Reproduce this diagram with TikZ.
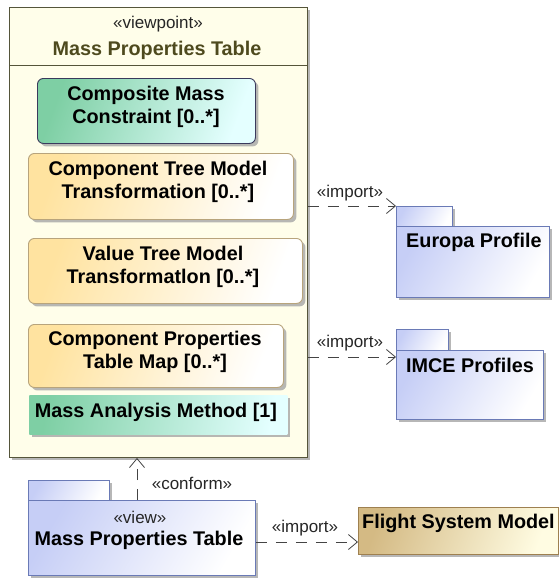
\documentclass[tikz,border=0pt]{standalone}
\usepackage{fontspec}
\setmainfont{Liberation Sans}
\usetikzlibrary{shadows,arrows.meta}
\definecolor{mainfill}{HTML}{FFFEEA}
\definecolor{mainborder}{HTML}{55553A}
\definecolor{headtext}{HTML}{4E4A1E}
\definecolor{tealL}{HTML}{7ECFA4}
\definecolor{tealR}{HTML}{E4FFFF}
\definecolor{tealborder}{HTML}{3A3A5C}
\definecolor{orgL}{HTML}{FFE3A0}
\definecolor{orgR}{HTML}{FFFFFF}
\definecolor{orgborder}{HTML}{B8A47C}
\definecolor{pkgL}{HTML}{C6CEF6}
\definecolor{pkgR}{HTML}{FFFFFF}
\definecolor{pkgborder}{HTML}{6A7AB6}
\definecolor{fsL}{HTML}{D4BA84}
\definecolor{fsR}{HTML}{FFFCE2}
\definecolor{fsborder}{HTML}{9E8050}
\definecolor{linecol}{HTML}{444444}
\tikzset{
  shad/.style={drop shadow={shadow xshift=3pt,shadow yshift=-3pt,fill=black!35,opacity=0.8}},
  box/.style={anchor=north west,inner sep=0pt,line width=0.9pt,shad},
  mainbox/.style={box,draw=mainborder,fill=mainfill},
  tealbox/.style={box,draw=tealborder,rounded corners=6pt,left color=tealL,right color=tealR,shading angle=70},
  orgbox/.style={box,draw=orgborder,rounded corners=6pt,left color=orgL,right color=orgR,shading angle=70},
  methbox/.style={box,left color=tealL,right color=tealR,shading angle=80},
  pkg/.style={box,draw=pkgborder,left color=pkgL,right color=pkgR,shading angle=60},
  fsbox/.style={box,draw=fsborder,left color=fsL,right color=fsR,shading angle=70},
  btxt/.style={font=\fontsize{19.8}{23}\selectfont\bfseries,align=center,inner sep=0pt,text=black},
  stxt/.style={font=\fontsize{17}{19}\selectfont,inner sep=0pt,text=black!85},
  dep/.style={draw=linecol,line width=0.8pt,dash pattern=on 11pt off 9pt,-{Straight Barb[length=9pt,width=15pt]}}
}
\begin{document}
\begin{tikzpicture}[x=1pt,y=-1pt]
\useasboundingbox[fill=white] (0,0) rectangle (559,578);
% main viewpoint box
\node[mainbox,minimum width=298pt,minimum height=450pt] (main) at (9,7) {};
\coordinate (hdrL) at (9,65);
\coordinate (hdrR) at (307,65);
\draw[draw=mainborder,line width=0.9pt] (hdrL) -- (hdrR);
\node[stxt] (vpst) at (158,24) {«viewpoint»};
\node[btxt,text=headtext] (vptitle) at (157,50) {Mass Properties Table};
% inner parts
\node[tealbox,minimum width=218pt,minimum height=65pt] (comp) at (37,78) {};
\node[btxt] (compt) at (146,106.5) {Composite Mass\\Constraint [0..*]};
\node[orgbox,minimum width=265pt,minimum height=66pt] (ctree) at (28,153) {};
\node[btxt] (ctreet) at (158,181.5) {Component Tree Model\\Transformation [0..*]};
\node[orgbox,minimum width=274pt,minimum height=65pt] (vtree) at (28,238) {};
\node[btxt] (vtreet) at (163,266.5) {Value Tree Model\\Transformatlon [0..*]};
\node[orgbox,minimum width=255pt,minimum height=63pt] (cprop) at (28,324) {};
\node[btxt] (cpropt) at (155,351.5) {Component Properties\\Table Map [0..*]};
\node[methbox,minimum width=258pt,minimum height=39pt] (mam) at (29,395) {};
\node[btxt] (mamt) at (156,412) {Mass Analysis Method [1]};
% Europa Profile package
\node[pkg,minimum width=56pt,minimum height=20pt] (eutab) at (396,206) {};
\node[pkg,minimum width=153pt,minimum height=71pt] (eubody) at (396,226) {};
\node[btxt,anchor=west] (eut) at (406,242) {Europa Profile};
% IMCE Profiles package
\node[pkg,minimum width=52pt,minimum height=21pt] (imtab) at (396,329) {};
\node[pkg,minimum width=147pt,minimum height=69pt] (imbody) at (396,350) {};
\node[btxt,anchor=west] (imt) at (406,365) {IMCE Profiles};
% view package
\node[pkg,minimum width=81pt,minimum height=20pt] (vwtab) at (28,480) {};
\node[pkg,minimum width=227pt,minimum height=75pt] (vwbody) at (28,500) {};
\node[stxt] (vwst) at (140,517) {«view»};
\node[btxt] (vwt) at (139,540) {Mass Properties Table};
% Flight System Model
\node[fsbox,minimum width=200pt,minimum height=47pt] (fs) at (358,507) {};
\node[btxt,anchor=west] (fst) at (362,523) {Flight System Model};
% connectors
\coordinate (euhit) at (396,206);
\coordinate (imhit) at (396,357);
\coordinate (fshit) at (358,542);
\coordinate (cfx) at (137,0);
\draw[dep] (main.east |- euhit) -- (euhit);
\draw[dep] (main.east |- imhit) -- (imhit);
\draw[dep] (vwbody.east |- fshit) -- (fshit);
\draw[dep] (vwbody.north -| cfx) -- (main.south -| cfx);
% labels
\node[stxt] (l1) at (350,193) {«import»};
\node[stxt] (l2) at (350,343) {«import»};
\node[stxt] (l3) at (305,528) {«import»};
\node[stxt] (l4) at (192,483) {«conform»};
\end{tikzpicture}
\end{document}
